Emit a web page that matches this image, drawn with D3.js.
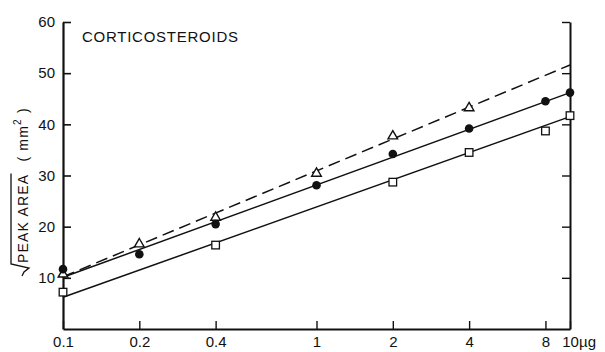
<!DOCTYPE html>
<html lang="en">
<head>
  <meta charset="UTF-8">
  <title>Corticosteroids peak area</title>
  <style>
    body { margin: 0; background: #fff; }
    svg { display: block; font-family: "Liberation Sans", Arial, sans-serif; }
    .axis path, .axis line { stroke: #111; }
    .axis text { font-size: 15px; fill: #111; }
  </style>
</head>
<body>
  <svg width="605" height="352"></svg>
  <script src="https://d3js.org/d3.v7.min.js"></script>
  <script>
    const width = 605, height = 352;

    // doses (µg) and measured sqrt(peak area) values, null = no point
    const doses = [0.1, 0.2, 0.4, 1, 2, 4, 8, 10];
    const triangles = [10.7, 16.6, 21.8, 30.4, 37.7, 43.2, null, null];
    const circles = [11.7, 14.6, 20.5, 28.1, 34.2, 39.2, 44.5, 46.2];
    const squares = [7.2, null, 16.4, null, 28.7, 34.5, 38.7, 41.7];

    // fitted lines, end values at 0.1 and 10 µg
    const fitDoses = [0.1, 10];
    const triangleFit = [10.2, 51.6];
    const circleFit = [10.1, 46.2];
    const squareFit = [6.2, 41.5];

    const xTicks = [0.1, 0.2, 0.4, 1, 2, 4, 8, 10];
    const xTickLabels = ["0.1", "0.2", "0.4", "1", "2", "4", "8", "10"];
    const yTicks = [10, 20, 30, 40, 50, 60];

    const x = d3.scaleLog().domain([0.1, 10]).range([63, 570]);
    const y = d3.scaleLinear().domain([0, 60]).range([329, 22]);

    const svg = d3.select("svg");

    // left axis, ticks pointing inward
    const left = svg.append("g")
      .attr("class", "axis")
      .attr("transform", `translate(${x(0.1)},0)`)
      .call(d3.axisLeft(y).tickValues(yTicks).tickSizeInner(-8).tickSizeOuter(0).tickPadding(8));
    left.select(".domain").attr("stroke-width", 2.2);
    left.selectAll(".tick line").attr("stroke-width", 1.6);

    // right axis, ticks only
    const right = svg.append("g")
      .attr("class", "axis")
      .attr("transform", `translate(${x(10)},0)`)
      .call(d3.axisRight(y).tickValues(yTicks).tickSizeInner(-8).tickSizeOuter(0).tickFormat(""));
    right.select(".domain").attr("stroke-width", 2);
    right.selectAll(".tick line").attr("stroke-width", 1.4);

    // bottom axis
    const bottom = svg.append("g")
      .attr("class", "axis")
      .attr("transform", `translate(0,${y(0)})`)
      .call(d3.axisBottom(x).tickValues(xTicks).tickSizeInner(-8).tickSizeOuter(0).tickPadding(7)
        .tickFormat((d, i) => xTickLabels[i]));
    bottom.select(".domain").attr("stroke-width", 1.8);
    bottom.selectAll(".tick line").attr("stroke-width", 1.4);

    svg.append("text")
      .attr("x", x(10) + 9)
      .attr("y", y(0) + 18)
      .attr("font-size", 15)
      .attr("fill", "#111")
      .text("µg");

    // fitted lines
    const line = d3.line().x((d, i) => x(fitDoses[i])).y(d => y(d));
    svg.append("path").datum(triangleFit)
      .attr("d", line).attr("fill", "none").attr("stroke", "#111")
      .attr("stroke-width", 1.5).attr("stroke-dasharray", "12,6");
    svg.append("path").datum(circleFit)
      .attr("d", line).attr("fill", "none").attr("stroke", "#111").attr("stroke-width", 1.5);
    svg.append("path").datum(squareFit)
      .attr("d", line).attr("fill", "none").attr("stroke", "#111").attr("stroke-width", 1.5);

    // points
    const pts = vals => doses.map((d, i) => ({ d, v: vals[i] })).filter(p => p.v != null);

    svg.append("g").selectAll("path")
      .data(pts(triangles))
      .join("path")
      .attr("d", d3.symbol(d3.symbolTriangle, 40))
      .attr("transform", p => `translate(${x(p.d)},${y(p.v)})`)
      .attr("fill", "#fff").attr("stroke", "#111").attr("stroke-width", 1.4);

    svg.append("g").selectAll("circle")
      .data(pts(circles))
      .join("circle")
      .attr("cx", p => x(p.d)).attr("cy", p => y(p.v))
      .attr("r", 4.3).attr("fill", "#111");

    svg.append("g").selectAll("rect")
      .data(pts(squares))
      .join("rect")
      .attr("x", p => x(p.d) - 3.8).attr("y", p => y(p.v) - 3.8)
      .attr("width", 7.6).attr("height", 7.6)
      .attr("fill", "#fff").attr("stroke", "#111").attr("stroke-width", 1.3);

    // title
    svg.append("text")
      .attr("x", 82).attr("y", 42)
      .attr("font-size", 15)
      .attr("fill", "#111")
      .attr("textLength", 156).attr("lengthAdjust", "spacing")
      .text("CORTICOSTEROIDS");

    // y label with square-root sign
    const yl = svg.append("g").attr("transform", "translate(28,263) rotate(-90)");
    const peak = yl.append("text")
      .attr("x", 0).attr("y", 0)
      .attr("font-size", 14).attr("fill", "#111")
      .attr("letter-spacing", 1.2)
      .text("PEAK AREA");
    const peakLen = peak.node().getComputedTextLength();
    const rest = yl.append("text")
      .attr("x", peakLen + 12).attr("y", 0)
      .attr("font-size", 14).attr("fill", "#111")
      .attr("letter-spacing", 1.2);
    rest.append("tspan").text("( mm");
    rest.append("tspan").attr("font-size", 10).attr("dy", -7).text("2");
    rest.append("tspan").attr("dy", 7).text(" )");
    yl.append("path")
      .attr("d", `M${-13},${-6} L${-9},${-4} L${-5},${1} L${-1},${-17} L${peakLen},${-17}`)
      .attr("fill", "none").attr("stroke", "#111").attr("stroke-width", 1.3);
  </script>
</body>
</html>
